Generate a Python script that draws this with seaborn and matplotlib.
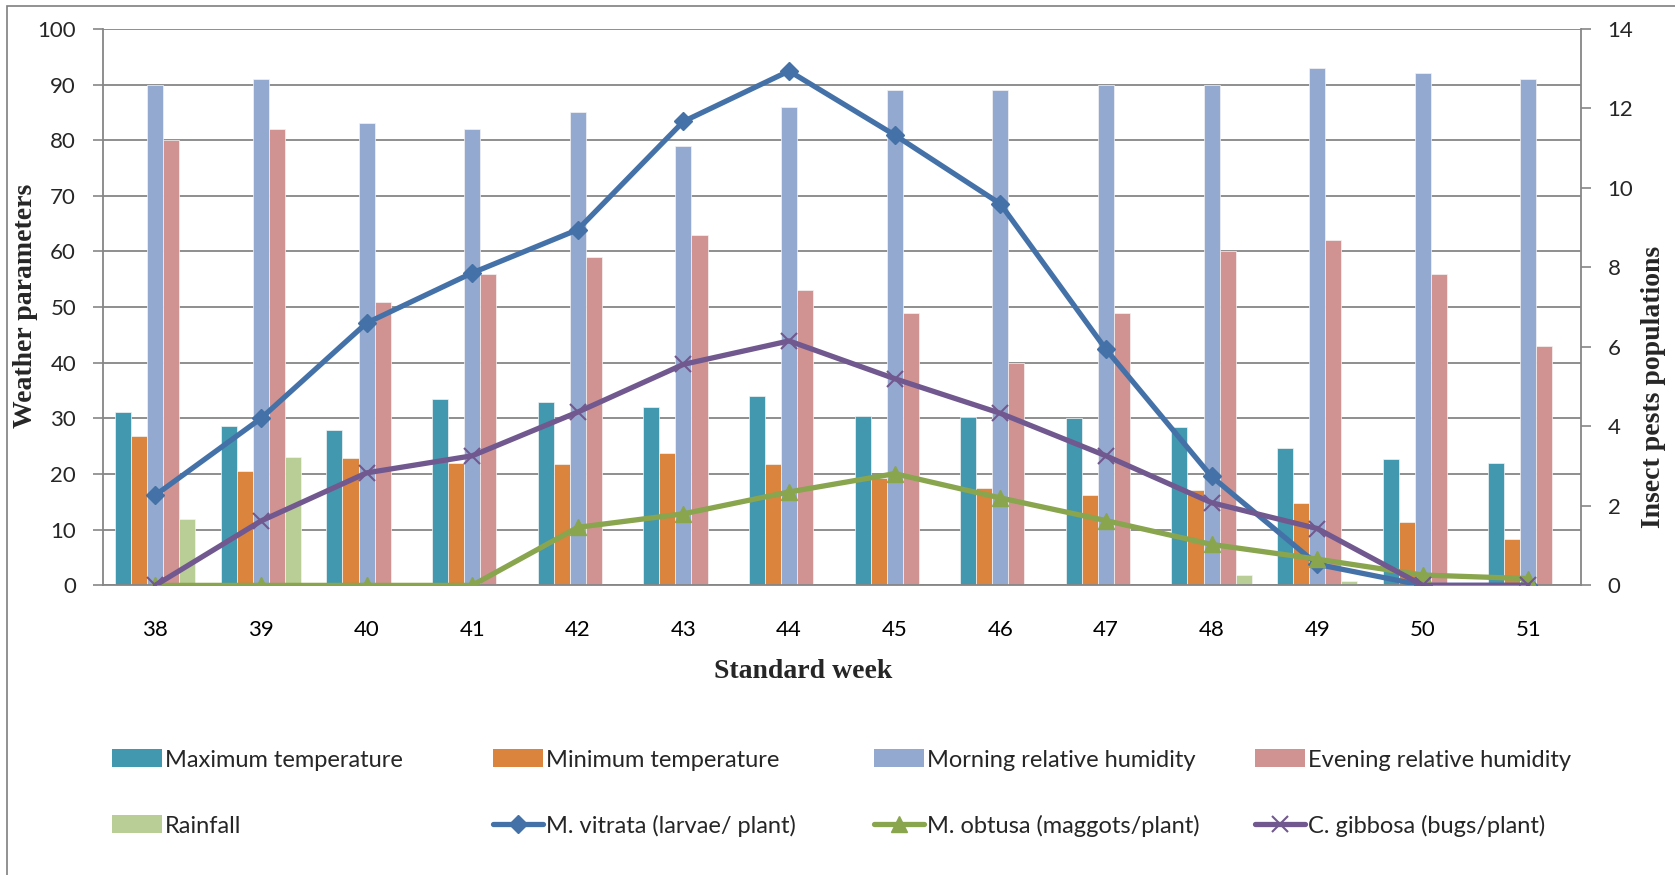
import numpy as np
import pandas as pd
import matplotlib
matplotlib.use("Agg")
import matplotlib.pyplot as plt
import seaborn as sns
from matplotlib.patches import Patch, Rectangle
from matplotlib.lines import Line2D

# Standard weeks
weeks = [38, 39, 40, 41, 42, 43, 44, 45, 46, 47, 48, 49, 50, 51]

# Weather parameters (left axis)
max_temp = [31.1, 28.7, 28.0, 33.5, 33.0, 32.1, 34.0, 30.5, 30.3, 30.0, 28.4, 24.7, 22.7, 22.0]
min_temp = [26.9, 20.6, 22.8, 22.0, 21.8, 23.8, 21.8, 19.3, 17.5, 16.3, 17.2, 14.8, 11.4, 8.3]
morning_rh = [90, 91, 83, 82, 85, 79, 86, 89, 89, 90, 90, 93, 92, 91]
evening_rh = [80, 82, 51, 56, 59, 63, 53, 49, 40, 49, 60, 62, 56, 43]
rainfall = [12, 23, 0, 0, 0, 0, 0, 0, 0, 0, 1.9, 0.8, 0, 0]

# Insect pest populations (right axis)
vitrata = [2.27, 4.2, 6.6, 7.86, 8.95, 11.67, 12.94, 11.33, 9.6, 5.94, 2.74, 0.53, 0.0, 0.0]
obtusa = [0, 0, 0, 0, 1.46, 1.8, 2.35, 2.81, 2.2, 1.63, 1.03, 0.66, 0.26, 0.17]
gibbosa = [0, 1.62, 2.83, 3.26, 4.36, 5.56, 6.15, 5.2, 4.33, 3.26, 2.08, 1.43, 0, 0]

bar_names = ["Maximum temperature", "Minimum temperature", "Morning relative humidity",
             "Evening relative humidity", "Rainfall"]
bar_colors = ["#4198AF", "#DB843D", "#93A9CF", "#D19392", "#B9CD96"]
pest_names = ["M. vitrata (larvae/ plant)", "M. obtusa (maggots/plant)", "C. gibbosa (bugs/plant)"]
pest_colors = ["#4472A8", "#89A54E", "#71588F"]
pest_markers = ["D", "^", "x"]
marker_sizes = {"D": 9, "^": 11.5, "x": 11}

week_labels = [str(w) for w in weeks]
weather = pd.DataFrame({"week": week_labels,
                        bar_names[0]: max_temp, bar_names[1]: min_temp,
                        bar_names[2]: morning_rh, bar_names[3]: evening_rh,
                        bar_names[4]: rainfall})
weather_long = weather.melt(id_vars="week", var_name="parameter", value_name="value")

sns.set_theme(style="white")
plt.rcParams["font.family"] = ["Lato", "DejaVu Sans"]

GRAY = "#868686"
LW = 3.8
fig = plt.figure(figsize=(16.75, 8.75), dpi=100)
ax = fig.add_axes([0.0612, 0.331, 0.944 - 0.0612, 0.967 - 0.331])

sns.barplot(data=weather_long, x="week", y="value", hue="parameter", order=week_labels,
            hue_order=bar_names, palette=bar_colors, width=0.76, gap=0, saturation=1,
            linewidth=0.5, edgecolor="#f4f4f4", legend=False, ax=ax)

ax2 = ax.twinx()
for vals, col, mk in zip([vitrata, obtusa, gibbosa], pest_colors, pest_markers):
    n_before = len(ax2.lines)
    sns.pointplot(x=week_labels, y=vals, order=week_labels, color=col, markers=mk,
                  errorbar=None, ax=ax2)
    for line in ax2.lines[n_before:]:
        line.set_linewidth(LW)
        line.set_markersize(marker_sizes[mk])
        line.set_markeredgewidth(1.5 if mk == "x" else 1.0)
        line.set_markeredgecolor(col)
        line.set_markerfacecolor(col)

# Axes styling
ax.set_xlim(-0.5, len(weeks) - 0.5)
ax2.set_xlim(-0.5, len(weeks) - 0.5)
ax.set_ylim(0, 100)
ax2.set_ylim(0, 14)
ax.set_yticks(np.arange(0, 101, 10))
ax2.set_yticks(np.arange(0, 15, 2))
ax.set_xticks(range(len(weeks)))
ax.set_xticklabels(week_labels)
ax.set_xticks(np.arange(-0.5, len(weeks)), minor=True)
ax.set_axisbelow(True)
ax.yaxis.grid(True, color=GRAY, linewidth=1.3)
ax.xaxis.grid(False)
ax2.grid(False)

ax.tick_params(axis="x", which="major", length=0, pad=25, labelsize=16, labelcolor="black")
ax.tick_params(axis="x", which="minor", length=7, width=1.2, color=GRAY, direction="out")
ax.tick_params(axis="y", length=7, width=1.2, color=GRAY, direction="out", pad=12,
               labelsize=16, left=True)
ax2.tick_params(axis="y", length=7, width=1.2, color=GRAY, direction="out", pad=12,
                labelsize=16, right=True)

for a in (ax, ax2):
    for s in a.spines.values():
        s.set_visible(False)
ax.spines["left"].set_visible(True)
ax.spines["bottom"].set_visible(True)
ax2.spines["right"].set_visible(True)
for s in (ax.spines["left"], ax.spines["bottom"], ax2.spines["right"]):
    s.set_color(GRAY)
    s.set_linewidth(1.3)

serif = {"family": "Liberation Serif", "weight": "bold", "size": 20}
ax.set_xlabel("Standard week", fontdict=serif)
ax.xaxis.set_label_coords(0.474, -0.154)
ax.xaxis.label.set_va("center")
ax.set_ylabel("Weather parameters", fontdict=serif)
ax.yaxis.set_label_coords(-0.0524, 0.503)
ax.yaxis.label.set_va("center")
ax2.set_ylabel("Insect pests populations", fontdict=serif)
ax2.yaxis.set_label_coords(1.0487, 0.356)
ax2.yaxis.label.set_va("center")

# Legend: two rows of four entries
handles = [Patch(facecolor=c, edgecolor="none") for c in bar_colors]
handles += [Line2D([], [], color=c, marker=m, lw=LW, markersize=marker_sizes[m],
                   markeredgewidth=1.5 if m == "x" else 1.0)
            for c, m in zip(pest_colors, pest_markers)]
labels = bar_names + pest_names
col_x = [112, 493, 874, 1255]
row_y = [760, 826]
for i, (h, lab) in enumerate(zip(handles, labels)):
    x = col_x[i % 4] / 1675
    y = 1 - row_y[i // 4] / 875
    fig.legend(handles=[h], labels=[lab], loc="center left", bbox_to_anchor=(x, y),
               frameon=False, fontsize=17, handlelength=2.1, handleheight=0.8,
               handletextpad=0.15, borderpad=0, borderaxespad=0)

# Outer chart frame
fig.add_artist(Rectangle((7 / 1675, -0.1), 1.2, 1.1 - 6 / 875, transform=fig.transFigure,
                         fill=False, edgecolor="#7f7f7f", linewidth=1.2))

fig.savefig("out.png", dpi=100)
